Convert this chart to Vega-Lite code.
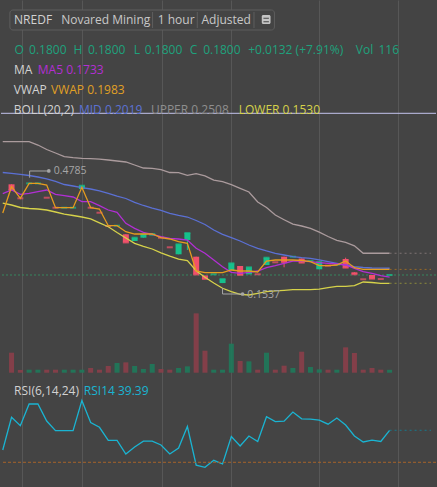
{
"$schema": "https://vega.github.io/schema/vega-lite/v6.json",
"width": 437, "height": 487,
"autosize": {"type": "fit", "contains": "padding"},
"padding": 0,
"background": "#444444",
"config": {
 "view": {"stroke": null},
 "axis": {"labels": false, "ticks": false, "domain": false, "grid": true, "gridColor": "#575757", "gridWidth": 1, "minExtent": 0, "maxExtent": 0, "titleFontSize": 0, "titlePadding": 0, "labelPadding": 0, "tickSize": 0},
 "text": {"font": "Open Sans", "fontSize": 12, "align": "left", "baseline": "alphabetic"}
},
"datasets": {
 "candles": [
  {"i":0,"o":0.4754,"h":0.4754,"l":0.4569,"c":0.4569,"v":800,"dir":"down"},
  {"i":1,"o":0.4298,"h":0.4298,"l":0.4298,"c":0.4298,"v":110,"dir":"down"},
  {"i":2,"o":0.4785,"h":0.4785,"l":0.4785,"c":0.4785,"v":120,"dir":"up"},
  {"i":3,"o":0.4785,"h":0.4785,"l":0.4785,"c":0.4785,"v":120,"dir":"up"},
  {"i":4,"o":0.4318,"h":0.4318,"l":0.4318,"c":0.4318,"v":120,"dir":"down"},
  {"i":5,"o":0.3992,"h":0.3992,"l":0.3992,"c":0.3992,"v":120,"dir":"down"},
  {"i":6,"o":0.3992,"h":0.3992,"l":0.3992,"c":0.3992,"v":120,"dir":"up"},
  {"i":7,"o":0.3992,"h":0.3992,"l":0.3992,"c":0.3992,"v":120,"dir":"up"},
  {"i":8,"o":0.4601,"h":0.4709,"l":0.4601,"c":0.4709,"v":120,"dir":"up"},
  {"i":9,"o":0.3992,"h":0.3992,"l":0.3992,"c":0.3992,"v":187,"dir":"down"},
  {"i":10,"o":0.3829,"h":0.3829,"l":0.3829,"c":0.3829,"v":120,"dir":"down"},
  {"i":11,"o":0.3396,"h":0.3396,"l":0.3396,"c":0.3396,"v":267,"dir":"down"},
  {"i":12,"o":0.3406,"h":0.3406,"l":0.3406,"c":0.3406,"v":387,"dir":"up"},
  {"i":13,"o":0.3126,"h":0.3126,"l":0.2859,"c":0.2859,"v":413,"dir":"down"},
  {"i":14,"o":0.2907,"h":0.3015,"l":0.2907,"c":0.3015,"v":267,"dir":"up"},
  {"i":15,"o":0.3015,"h":0.3126,"l":0.3015,"c":0.3126,"v":147,"dir":"up"},
  {"i":16,"o":0.3087,"h":0.3135,"l":0.3087,"c":0.3135,"v":347,"dir":"up"},
  {"i":17,"o":0.3015,"h":0.3015,"l":0.3015,"c":0.3015,"v":147,"dir":"down"},
  {"i":18,"o":0.2702,"h":0.2702,"l":0.2702,"c":0.2702,"v":120,"dir":"down"},
  {"i":19,"o":0.2474,"h":0.28,"l":0.2474,"c":0.28,"v":187,"dir":"up"},
  {"i":20,"o":0.294,"h":0.3168,"l":0.2614,"c":0.3168,"v":253,"dir":"up"},
  {"i":21,"o":0.2396,"h":0.2396,"l":0.1816,"c":0.1816,"v":2373,"dir":"down"},
  {"i":22,"o":0.1784,"h":0.1784,"l":0.167,"c":0.167,"v":880,"dir":"down"},
  {"i":23,"o":0.1823,"h":0.1823,"l":0.1823,"c":0.1823,"v":120,"dir":"up"},
  {"i":24,"o":0.1537,"h":0.167,"l":0.1537,"c":0.167,"v":120,"dir":"up"},
  {"i":25,"o":0.1963,"h":0.2181,"l":0.1963,"c":0.2181,"v":1160,"dir":"up"},
  {"i":26,"o":0.2093,"h":0.2093,"l":0.18,"c":0.18,"v":467,"dir":"down"},
  {"i":27,"o":0.1823,"h":0.2051,"l":0.1823,"c":0.2051,"v":453,"dir":"up"},
  {"i":28,"o":0.1823,"h":0.1823,"l":0.1823,"c":0.1823,"v":120,"dir":"down"},
  {"i":29,"o":0.2126,"h":0.2364,"l":0.2126,"c":0.2364,"v":800,"dir":"up"},
  {"i":30,"o":0.2214,"h":0.2214,"l":0.2214,"c":0.2214,"v":120,"dir":"down"},
  {"i":31,"o":0.2396,"h":0.2396,"l":0.2051,"c":0.2214,"v":280,"dir":"down"},
  {"i":32,"o":0.2396,"h":0.2396,"l":0.2396,"c":0.2396,"v":187,"dir":"up"},
  {"i":33,"o":0.2337,"h":0.2337,"l":0.2201,"c":0.2201,"v":840,"dir":"down"},
  {"i":34,"o":0.2256,"h":0.2256,"l":0.2256,"c":0.2256,"v":227,"dir":"up"},
  {"i":35,"o":0.1986,"h":0.2223,"l":0.1986,"c":0.2223,"v":133,"dir":"up"},
  {"i":36,"o":0.2103,"h":0.2103,"l":0.2103,"c":0.2103,"v":120,"dir":"down"},
  {"i":37,"o":0.2142,"h":0.2142,"l":0.2142,"c":0.2142,"v":120,"dir":"up"},
  {"i":38,"o":0.2321,"h":0.2364,"l":0.2038,"c":0.2038,"v":1013,"dir":"down"},
  {"i":39,"o":0.1888,"h":0.1888,"l":0.1823,"c":0.1823,"v":787,"dir":"down"},
  {"i":40,"o":0.166,"h":0.166,"l":0.166,"c":0.166,"v":120,"dir":"down"},
  {"i":41,"o":0.18,"h":0.18,"l":0.1679,"c":0.1679,"v":187,"dir":"down"},
  {"i":42,"o":0.1668,"h":0.1668,"l":0.1668,"c":0.1668,"v":120,"dir":"down"},
  {"i":43,"o":0.18,"h":0.18,"l":0.18,"c":0.18,"v":116,"dir":"up"}
 ],
 "ind": [
  {"i":-1,"vwap":0.3820,"ma5":0.4448,"up":0.6142,"mid":0.5139,"lo":0.4145,"rsi":33.6},
  {"i":0,"vwap":0.4676,"ma5":0.4569,"up":0.6142,"mid":0.5113,"lo":0.4080,"rsi":43.21},
  {"i":1,"vwap":0.4298,"ma5":0.4429,"up":0.6142,"mid":0.5080,"lo":0.3999,"rsi":40.74},
  {"i":2,"vwap":0.4785,"ma5":0.4461,"up":0.6142,"mid":0.5041,"lo":0.3966,"rsi":47.12},
  {"i":3,"vwap":0.4785,"ma5":0.4513,"up":0.6034,"mid":0.4992,"lo":0.3950,"rsi":47.12},
  {"i":4,"vwap":0.4732,"ma5":0.4569,"up":0.5888,"mid":0.4934,"lo":0.3917,"rsi":42.12},
  {"i":5,"vwap":0.3992,"ma5":0.4429,"up":0.5774,"mid":0.4846,"lo":0.3852,"rsi":39.27},
  {"i":6,"vwap":0.3992,"ma5":0.4383,"up":0.5653,"mid":0.4748,"lo":0.3780,"rsi":39.27},
  {"i":7,"vwap":0.3992,"ma5":0.4341,"up":0.5621,"mid":0.4699,"lo":0.3738,"rsi":39.27},
  {"i":8,"vwap":0.4657,"ma5":0.4188,"up":0.5601,"mid":0.4644,"lo":0.3689,"rsi":48.15},
  {"i":9,"vwap":0.3992,"ma5":0.4188,"up":0.5588,"mid":0.4601,"lo":0.3631,"rsi":41.68},
  {"i":10,"vwap":0.3950,"ma5":0.4057,"up":0.5572,"mid":0.4543,"lo":0.3500,"rsi":40.27},
  {"i":11,"vwap":0.3406,"ma5":0.3917,"up":0.5546,"mid":0.4461,"lo":0.3373,"rsi":36.45},
  {"i":12,"vwap":0.3406,"ma5":0.3842,"up":0.5513,"mid":0.4373,"lo":0.3184,"rsi":36.45},
  {"i":13,"vwap":0.3210,"ma5":0.3484,"up":0.5481,"mid":0.4292,"lo":0.3005,"rsi":32.42},
  {"i":14,"vwap":0.3135,"ma5":0.3321,"up":0.5383,"mid":0.4168,"lo":0.2833,"rsi":34.48},
  {"i":15,"vwap":0.3135,"ma5":0.3191,"up":0.5285,"mid":0.4064,"lo":0.2735,"rsi":36.18},
  {"i":16,"vwap":0.3135,"ma5":0.3126,"up":0.5276,"mid":0.3982,"lo":0.2647,"rsi":36.18},
  {"i":17,"vwap":0.3015,"ma5":0.3048,"up":0.5236,"mid":0.3907,"lo":0.2523,"rsi":35.07},
  {"i":18,"vwap":0.2973,"ma5":0.2995,"up":0.5139,"mid":0.3810,"lo":0.2412,"rsi":32.42},
  {"i":19,"vwap":0.2885,"ma5":0.2973,"up":0.5132,"mid":0.3745,"lo":0.2315,"rsi":34.18},
  {"i":20,"vwap":0.2833,"ma5":0.2940,"up":0.5048,"mid":0.3689,"lo":0.2266,"rsi":40.51},
  {"i":21,"vwap":0.1930,"ma5":0.2670,"up":0.5100,"mid":0.3575,"lo":0.1937,"rsi":29.13},
  {"i":22,"vwap":0.1875,"ma5":0.2507,"up":0.5031,"mid":0.3445,"lo":0.1725,"rsi":28.51},
  {"i":23,"vwap":0.1875,"ma5":0.2289,"up":0.4894,"mid":0.3266,"lo":0.1539,"rsi":30.57},
  {"i":24,"vwap":0.1875,"ma5":0.2070,"up":0.4839,"mid":0.3126,"lo":0.1367,"rsi":29.48},
  {"i":25,"vwap":0.1963,"ma5":0.1888,"up":0.4741,"mid":0.3015,"lo":0.1256,"rsi":37.57},
  {"i":26,"vwap":0.1930,"ma5":0.1855,"up":0.4624,"mid":0.2907,"lo":0.1171,"rsi":34.77},
  {"i":27,"vwap":0.1930,"ma5":0.1888,"up":0.4504,"mid":0.2777,"lo":0.1149,"rsi":37.71},
  {"i":28,"vwap":0.1898,"ma5":0.1930,"up":0.4178,"mid":0.2670,"lo":0.1204,"rsi":36.10},
  {"i":29,"vwap":0.2256,"ma5":0.2038,"up":0.3999,"mid":0.2582,"lo":0.1256,"rsi":43.39},
  {"i":30,"vwap":0.2289,"ma5":0.2103,"up":0.3754,"mid":0.2507,"lo":0.1285,"rsi":41.92},
  {"i":31,"vwap":0.2289,"ma5":0.2181,"up":0.3601,"mid":0.2451,"lo":0.1302,"rsi":42.07},
  {"i":32,"vwap":0.2289,"ma5":0.2256,"up":0.3455,"mid":0.2396,"lo":0.1321,"rsi":44.77},
  {"i":33,"vwap":0.2272,"ma5":0.2256,"up":0.3396,"mid":0.2364,"lo":0.1321,"rsi":42.77},
  {"i":34,"vwap":0.2233,"ma5":0.2233,"up":0.3315,"mid":0.2344,"lo":0.1321,"rsi":42.65},
  {"i":35,"vwap":0.2103,"ma5":0.2201,"up":0.3194,"mid":0.2289,"lo":0.1337,"rsi":42.36},
  {"i":36,"vwap":0.2103,"ma5":0.2181,"up":0.3054,"mid":0.2233,"lo":0.1386,"rsi":41.18},
  {"i":37,"vwap":0.2126,"ma5":0.2158,"up":0.2930,"mid":0.2181,"lo":0.1432,"rsi":43.01},
  {"i":38,"vwap":0.2256,"ma5":0.2126,"up":0.2859,"mid":0.2126,"lo":0.1432,"rsi":40.95},
  {"i":39,"vwap":0.2038,"ma5":0.2018,"up":0.2751,"mid":0.2070,"lo":0.1451,"rsi":37.71},
  {"i":40,"vwap":0.1983,"ma5":0.1907,"up":0.2508,"mid":0.2044,"lo":0.1572,"rsi":35.95},
  {"i":41,"vwap":0.1983,"ma5":0.1855,"up":0.2508,"mid":0.2028,"lo":0.1556,"rsi":36.48},
  {"i":42,"vwap":0.1983,"ma5":0.1777,"up":0.2508,"mid":0.2022,"lo":0.1530,"rsi":36.10},
  {"i":43,"vwap":0.1983,"ma5":0.1733,"up":0.2508,"mid":0.2019,"lo":0.1530,"rsi":39.39}
 ]
},
"layer": [
 {
  "data": {"name": "candles"},
  "mark": {"type": "bar", "width": 5, "opacity": 0.9},
  "encoding": {
   "x": {"field": "i", "type": "quantitative"},
   "y": {"field": "v", "type": "quantitative", "scale": {"domain": [-4572, 14908], "nice": false, "zero": false}, "axis": null},
   "color": {"condition": {"test": "datum.dir === 'up'", "value": "#1f7a5b"}, "value": "#8b3f4a"}
  }
 },
 {
  "data": {"values": [{}]},
  "layer": [
   {"mark": {"type": "rule", "color": "#c4c4ee", "strokeWidth": 1}, "encoding": {"y": {"datum": 0.7067}}},
   {"mark": {"type": "rule", "color": "#36875f", "strokeWidth": 1, "strokeDash": [2, 2]}, "encoding": {"y": {"datum": 0.18}}},
   {"data": {"name": "candles"}, "mark": {"type": "rule", "strokeWidth": 1},
    "encoding": {
     "x": {"field": "i", "type": "quantitative", "scale": {"domain": [-0.6305, 47.71], "nice": false, "zero": false}, "axis": {"values": [1.14, 8, 17.07, 25, 35, 43.95], "title": null, "orient": "bottom"}},
     "y": {"field": "l", "type": "quantitative", "scale": {"domain": [-0.5106, 1.0758], "nice": false, "zero": false}, "axis": {"values": [1.0334, 0.8914, 0.7494, 0.6074, 0.4653, 0.3233, 0.0393], "title": null, "orient": "left"}},
     "y2": {"field": "h"},
     "color": {"condition": {"test": "datum.dir === 'up'", "value": "#16c08c"}, "value": "#f2516b"}
    }},
   {"data": {"name": "candles"}, "mark": {"type": "bar", "width": 6},
    "encoding": {
     "x": {"field": "i", "type": "quantitative"},
     "y": {"field": "o", "type": "quantitative"},
     "y2": {"field": "c"},
     "color": {"condition": {"test": "datum.dir === 'up'", "value": "#16c08c"}, "value": "#f2516b"}
    }},
   {"data": {"name": "candles"}, "mark": {"type": "tick", "orient": "horizontal", "size": 6, "thickness": 2},
    "encoding": {
     "x": {"field": "i", "type": "quantitative"},
     "y": {"field": "c", "type": "quantitative"},
     "color": {"condition": {"test": "datum.dir === 'up'", "value": "#16c08c"}, "value": "#f2516b"}
    }},
   {"data": {"name": "ind"}, "mark": {"type": "line", "color": "#ab9b9d", "strokeWidth": 1.3, "clip": true}, "encoding": {"x": {"field": "i", "type": "quantitative"}, "y": {"field": "up", "type": "quantitative"}}},
   {"data": {"name": "ind"}, "mark": {"type": "line", "color": "#5b70d4", "strokeWidth": 1.3, "clip": true}, "encoding": {"x": {"field": "i", "type": "quantitative"}, "y": {"field": "mid", "type": "quantitative"}}},
   {"data": {"name": "ind"}, "mark": {"type": "line", "color": "#d6d24a", "strokeWidth": 1.3, "clip": true}, "encoding": {"x": {"field": "i", "type": "quantitative"}, "y": {"field": "lo", "type": "quantitative"}}},
   {"data": {"name": "ind"}, "mark": {"type": "line", "color": "#b22fd4", "strokeWidth": 1.3, "clip": true}, "encoding": {"x": {"field": "i", "type": "quantitative"}, "y": {"field": "ma5", "type": "quantitative"}}},
   {"data": {"name": "ind"}, "mark": {"type": "line", "color": "#e69c1e", "strokeWidth": 1.3, "clip": true}, "encoding": {"x": {"field": "i", "type": "quantitative"}, "y": {"field": "vwap", "type": "quantitative"}}},
   {"mark": {"type": "rule", "color": "#7d7373", "strokeDash": [2, 3]}, "encoding": {"x": {"datum": 43}, "x2": {"datum": 47.71}, "y": {"datum": 0.2508}}},
   {"mark": {"type": "rule", "color": "#9a6a25", "strokeDash": [2, 3]}, "encoding": {"x": {"datum": 43}, "x2": {"datum": 47.71}, "y": {"datum": 0.1983}}},
   {"mark": {"type": "rule", "color": "#8c8a3c", "strokeDash": [2, 3]}, "encoding": {"x": {"datum": 43}, "x2": {"datum": 47.71}, "y": {"datum": 0.153}}},
   {"mark": {"type": "rect", "fill": "#444444", "stroke": "#5e5e5e", "strokeWidth": 1, "cornerRadius": 3}, "encoding": {"x": {"datum": -0.188}, "x2": {"datum": 29.9}, "y": {"datum": 1.0432}, "y2": {"datum": 0.978}}},
   {"mark": {"type": "rule", "color": "#5e5e5e"}, "encoding": {"x": {"datum": 16.04}, "y": {"datum": 1.0367}, "y2": {"datum": 0.9845}}},
   {"mark": {"type": "rule", "color": "#5e5e5e"}, "encoding": {"x": {"datum": 21.128}, "y": {"datum": 1.0367}, "y2": {"datum": 0.9845}}},
   {"mark": {"type": "rule", "color": "#5e5e5e"}, "encoding": {"x": {"datum": 27.577}, "y": {"datum": 1.0367}, "y2": {"datum": 0.9845}}},
   {"mark": {"type": "rect", "fill": "#c4c4c4", "cornerRadius": 1.5}, "encoding": {"x": {"datum": 28.462}, "x2": {"datum": 29.458}, "y": {"datum": 1.0269}, "y2": {"datum": 0.9976}}},
   {"mark": {"type": "rule", "color": "#5a5a5a", "strokeWidth": 1.2}, "encoding": {"x": {"datum": 28.65}, "x2": {"datum": 29.27}, "y": {"datum": 1.0162}}},
   {"mark": {"type": "rule", "color": "#5a5a5a", "strokeWidth": 1.2}, "encoding": {"x": {"datum": 28.65}, "x2": {"datum": 29.27}, "y": {"datum": 1.0051}}},
   {"mark": {"type": "text", "color": "#d2d2d2"}, "encoding": {"x": {"datum": 0.288}, "y": {"datum": 0.9976}, "text": {"value": "NREDF"}}},
   {"mark": {"type": "text", "color": "#c8c8c8"}, "encoding": {"x": {"datum": 5.642}, "y": {"datum": 0.9976}, "text": {"value": "Novared Mining"}}},
   {"mark": {"type": "text", "color": "#c8c8c8"}, "encoding": {"x": {"datum": 16.626}, "y": {"datum": 0.9976}, "text": {"value": "1 hour"}}},
   {"mark": {"type": "text", "color": "#c8c8c8"}, "encoding": {"x": {"datum": 21.604}, "y": {"datum": 0.9976}, "text": {"value": "Adjusted"}}},
   {"mark": {"type": "text", "color": "#1ea27d"}, "encoding": {"x": {"datum": 0.332}, "y": {"datum": 0.8999}, "text": {"value": "O"}}},
   {"mark": {"type": "text", "color": "#1ea27d"}, "encoding": {"x": {"datum": 1.991}, "y": {"datum": 0.8999}, "text": {"value": "0.1800"}}},
   {"mark": {"type": "text", "color": "#1ea27d"}, "encoding": {"x": {"datum": 7.035}, "y": {"datum": 0.8999}, "text": {"value": "H"}}},
   {"mark": {"type": "text", "color": "#1ea27d"}, "encoding": {"x": {"datum": 8.695}, "y": {"datum": 0.8999}, "text": {"value": "0.1800"}}},
   {"mark": {"type": "text", "color": "#1ea27d"}, "encoding": {"x": {"datum": 13.894}, "y": {"datum": 0.8999}, "text": {"value": "L"}}},
   {"mark": {"type": "text", "color": "#1ea27d"}, "encoding": {"x": {"datum": 15.155}, "y": {"datum": 0.8999}, "text": {"value": "0.1800"}}},
   {"mark": {"type": "text", "color": "#1ea27d"}, "encoding": {"x": {"datum": 20.277}, "y": {"datum": 0.8999}, "text": {"value": "C"}}},
   {"mark": {"type": "text", "color": "#1ea27d"}, "encoding": {"x": {"datum": 21.792}, "y": {"datum": 0.8999}, "text": {"value": "0.1800"}}},
   {"mark": {"type": "text", "color": "#1ea27d"}, "encoding": {"x": {"datum": 26.914}, "y": {"datum": 0.8999}, "text": {"value": "+0.0132 (+7.91%)"}}},
   {"mark": {"type": "text", "color": "#1ea27d"}, "encoding": {"x": {"datum": 39.159}, "y": {"datum": 0.8999}, "text": {"value": "Vol"}}},
   {"mark": {"type": "text", "color": "#1ea27d"}, "encoding": {"x": {"datum": 41.737}, "y": {"datum": 0.8999}, "text": {"value": "116"}}},
   {"mark": {"type": "text", "color": "#d2d2d2"}, "encoding": {"x": {"datum": 0.288}, "y": {"datum": 0.8347}, "text": {"value": "MA"}}},
   {"mark": {"type": "text", "color": "#b32fd3"}, "encoding": {"x": {"datum": 2.987}, "y": {"datum": 0.8347}, "text": {"value": "MA5 0.1733"}}},
   {"mark": {"type": "text", "color": "#d2d2d2"}, "encoding": {"x": {"datum": 0.254}, "y": {"datum": 0.7696}, "text": {"value": "VWAP"}}},
   {"mark": {"type": "text", "color": "#e0a024"}, "encoding": {"x": {"datum": 4.491}, "y": {"datum": 0.7696}, "text": {"value": "VWAP 0.1983"}}},
   {"mark": {"type": "text", "color": "#d2d2d2"}, "encoding": {"x": {"datum": 0.254}, "y": {"datum": 0.7054}, "text": {"value": "BOLL(20,2)"}}},
   {"mark": {"type": "text", "color": "#5c72d4"}, "encoding": {"x": {"datum": 7.666}, "y": {"datum": 0.7054}, "text": {"value": "MID 0.2019"}}},
   {"mark": {"type": "text", "color": "#8e8e8e"}, "encoding": {"x": {"datum": 15.852}, "y": {"datum": 0.7054}, "text": {"value": "UPPER 0.2508"}}},
   {"mark": {"type": "text", "color": "#d6d24a"}, "encoding": {"x": {"datum": 25.841}, "y": {"datum": 0.7054}, "text": {"value": "LOWER 0.1530"}}},
   {"mark": {"type": "rule", "color": "#a6a6a6"}, "encoding": {"x": {"datum": 2.06}, "y": {"datum": 0.4969}, "y2": {"datum": 0.5188}}},
   {"mark": {"type": "rule", "color": "#a6a6a6"}, "encoding": {"x": {"datum": 2.06}, "x2": {"datum": 4.237}, "y": {"datum": 0.5188}}},
   {"mark": {"type": "point", "filled": true, "opacity": 1, "size": 14, "color": "#a6a6a6"}, "encoding": {"x": {"datum": 4.237}, "y": {"datum": 0.5188}}},
   {"mark": {"type": "text", "color": "#a6a6a6", "fontSize": 10.5}, "encoding": {"x": {"datum": 4.79}, "y": {"datum": 0.508}, "text": {"value": "0.4785"}}},
   {"mark": {"type": "rule", "color": "#a6a6a6"}, "encoding": {"x": {"datum": 24.0}, "y": {"datum": 0.1377}, "y2": {"datum": 0.1181}}},
   {"mark": {"type": "rule", "color": "#a6a6a6"}, "encoding": {"x": {"datum": 24.0}, "x2": {"datum": 26.28}, "y": {"datum": 0.1181}}},
   {"mark": {"type": "point", "filled": true, "opacity": 1, "size": 14, "color": "#a6a6a6"}, "encoding": {"x": {"datum": 26.28}, "y": {"datum": 0.1181}}},
   {"mark": {"type": "text", "color": "#a6a6a6", "fontSize": 10.5}, "encoding": {"x": {"datum": 26.803}, "y": {"datum": 0.1041}, "text": {"value": "0.1537"}}}
  ]
 },
 {
  "data": {"values": [{}]},
  "layer": [
   {"data": {"name": "ind"}, "mark": {"type": "line", "color": "#1ab4d2", "strokeWidth": 1.3, "clip": true},
    "encoding": {
     "x": {"field": "i", "type": "quantitative"},
     "y": {"field": "rsi", "type": "quantitative", "scale": {"domain": [22.71, 165.95], "nice": false, "zero": false}, "axis": {"values": [55.65, 43.39, 33.3], "title": null, "orient": "right"}}
    }},
   {"mark": {"type": "rule", "color": "#a8642a", "strokeDash": [3, 2]}, "encoding": {"y": {"datum": 29.98}}},
   {"mark": {"type": "rule", "color": "#17788c", "strokeDash": [2, 3]}, "encoding": {"x": {"datum": 43}, "x2": {"datum": 47.71}, "y": {"datum": 39.39}}},
   {"mark": {"type": "text", "color": "#d2d2d2"}, "encoding": {"x": {"datum": 0.288}, "y": {"datum": 49.86}, "text": {"value": "RSI(6,14,24)"}}},
   {"mark": {"type": "text", "color": "#1ab4d2"}, "encoding": {"x": {"datum": 8.219}, "y": {"datum": 49.86}, "text": {"value": "RSI14 39.39"}}}
  ]
 }
],
"resolve": {"scale": {"y": "independent"}}
}
